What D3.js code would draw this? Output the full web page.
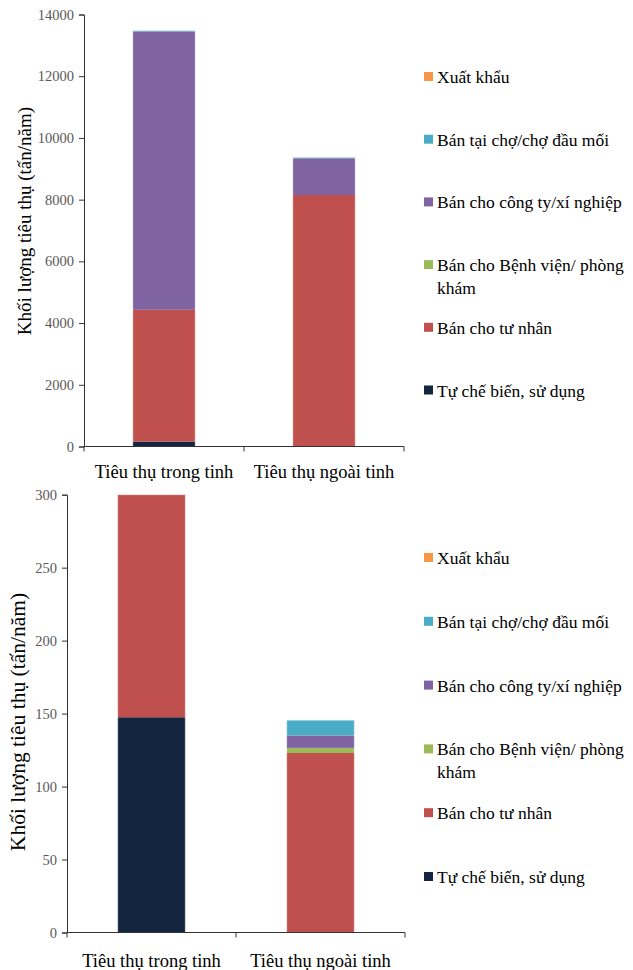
<!DOCTYPE html>
<html>
<head>
<meta charset="utf-8">
<script src="https://cdn.jsdelivr.net/npm/d3@7/dist/d3.min.js"></script>
<style>
  body { margin: 0; background: #fff; }
  svg { display: block; }
</style>
</head>
<body>
<svg id="chart" width="633" height="970"></svg>
<script>
const categories = ['Tiêu thụ trong tinh', 'Tiêu thụ ngoài tinh'];
// stacking order, bottom to top
const seriesNames = [
  'Tự chế biến, sử dụng',
  'Bán cho tư nhân',
  'Bán cho Bệnh viện/ phòng khám',
  'Bán cho công ty/xí nghiệp',
  'Bán tại chợ/chợ đầu mối',
  'Xuất khẩu'
];
const seriesColors = ['#13253f', '#c0504d', '#9bbb59', '#8064a2', '#4bacc6', '#f79646'];

// chart 1 (tấn/năm)
const topTuChe = [160, 0];
const topTuNhan = [4270, 8150];
const topBenhVien = [0, 0];
const topCongTy = [9020, 1190];
const topCho = [30, 30];
const topXuatKhau = [0, 0];
const topTicks = [0, 2000, 4000, 6000, 8000, 10000, 12000, 14000];

// chart 2 (tấn/năm)
const botTuChe = [147.5, 0];
const botTuNhan = [152.5, 123];
const botBenhVien = [0, 3.5];
const botCongTy = [0, 8.5];
const botCho = [0, 10.5];
const botXuatKhau = [0, 0];
const botTicks = [0, 50, 100, 150, 200, 250, 300];

const yTitle = 'Khối lượng tiêu thụ (tấn/năm)';
const FONT = '"Liberation Serif", serif';

const svg = d3.select('#chart');

function buildRows(series) {
  return categories.map((c, i) => {
    const row = { cat: c };
    seriesNames.forEach((s, k) => { row[s] = series[k][i]; });
    return row;
  });
}

function drawChart(opts) {
  const { series, ticks, left, right, top, bottom, barPad, titleX, titleY, titleSize, labelY, legendTop, legendStep } = opts;
  const g = svg.append('g');

  const x = d3.scaleBand().domain(categories).range([left, right]).paddingInner(0).paddingOuter(0);
  const y = d3.scaleLinear().domain([0, d3.max(ticks)]).range([bottom, top]);

  const stack = d3.stack().keys(seriesNames)(buildRows(series));
  const bw = x.bandwidth() * (1 - 2 * barPad);

  g.selectAll('g.layer')
    .data(stack)
    .join('g')
    .attr('class', 'layer')
    .attr('fill', (d, i) => seriesColors[i])
    .selectAll('rect')
    .data(d => d)
    .join('rect')
    .attr('x', d => x(d.data.cat) + x.bandwidth() * barPad)
    .attr('width', bw)
    .attr('y', d => y(d[1]))
    .attr('height', d => Math.max(0, y(d[0]) - y(d[1])));

  // faint light edges like the original
  g.selectAll('rect.edge')
    .data(categories)
    .join('rect')
    .attr('class', 'edge')
    .attr('x', c => x(c) + x.bandwidth() * barPad)
    .attr('width', bw)
    .attr('y', (c, i) => y(d3.sum(series, s => s[i])))
    .attr('height', (c, i) => bottom - y(d3.sum(series, s => s[i])))
    .attr('fill', 'none')
    .attr('stroke', '#fff')
    .attr('stroke-opacity', 0.45)
    .attr('stroke-width', 1);

  // y axis
  const yAxis = g.append('g')
    .attr('transform', `translate(${left},0)`)
    .call(d3.axisLeft(y).tickValues(ticks).tickSize(5).tickPadding(5).tickFormat(d3.format('d')));
  yAxis.select('.domain').attr('stroke', '#333');
  yAxis.selectAll('.tick line').attr('stroke', '#333');
  yAxis.selectAll('.tick text')
    .attr('fill', '#595959')
    .attr('font-family', FONT)
    .attr('font-size', 14.5);

  // x axis with ticks at category boundaries
  const xAxis = g.append('g').attr('transform', `translate(0,${bottom})`);
  xAxis.append('line').attr('x1', left).attr('x2', right).attr('stroke', '#333');
  const bounds = [left].concat(categories.map(c => x(c) + x.bandwidth()));
  xAxis.selectAll('line.tk')
    .data(bounds)
    .join('line')
    .attr('class', 'tk')
    .attr('x1', d => d).attr('x2', d => d)
    .attr('y1', 0).attr('y2', 5)
    .attr('stroke', '#333');
  xAxis.selectAll('text')
    .data(categories)
    .join('text')
    .attr('x', c => x(c) + x.bandwidth() / 2)
    .attr('y', labelY - bottom)
    .attr('text-anchor', 'middle')
    .attr('font-family', FONT)
    .attr('font-size', 18.5)
    .attr('fill', '#000')
    .text(c => c);

  // y title
  g.append('text')
    .attr('transform', `translate(${titleX},${titleY}) rotate(-90)`)
    .attr('text-anchor', 'middle')
    .attr('font-family', FONT)
    .attr('font-size', titleSize)
    .attr('fill', '#000')
    .text(yTitle);

  // legend, top entry = last series
  const legendItems = seriesNames.map((s, i) => ({ name: s, color: seriesColors[i] })).reverse();
  const lg = g.append('g');
  legendItems.forEach((item, i) => {
    const cy = legendTop + i * legendStep;
    lg.append('rect')
      .attr('x', 424).attr('y', cy - 5)
      .attr('width', 9).attr('height', 9)
      .attr('fill', item.color);
    const t = lg.append('text')
      .attr('x', 437).attr('y', cy + 6)
      .attr('font-family', FONT)
      .attr('font-size', 17.5)
      .attr('fill', '#000');
    // simple word wrap
    const words = item.name.split(' ');
    let line = [];
    let tspan = t.append('tspan').attr('x', 437).attr('dy', 0);
    words.forEach(w => {
      line.push(w);
      tspan.text(line.join(' '));
      if (tspan.node().getComputedTextLength() > 188 && line.length > 1) {
        line.pop();
        tspan.text(line.join(' '));
        line = [w];
        tspan = t.append('tspan').attr('x', 437).attr('dy', 23).text(w);
      }
    });
  });
}

drawChart({
  series: [topTuChe, topTuNhan, topBenhVien, topCongTy, topCho, topXuatKhau],
  ticks: topTicks,
  left: 84, right: 404, top: 14.5, bottom: 446.5,
  barPad: 0.305,
  titleX: 31, titleY: 221, titleSize: 19,
  labelY: 478,
  legendTop: 77, legendStep: 62.7
});

drawChart({
  series: [botTuChe, botTuNhan, botBenhVien, botCongTy, botCho, botXuatKhau],
  ticks: botTicks,
  left: 67, right: 405, top: 494.7, bottom: 932.5,
  barPad: 0.3,
  titleX: 25, titleY: 722, titleSize: 21.5,
  labelY: 967,
  legendTop: 558, legendStep: 63.8
});
</script>
</body>
</html>
